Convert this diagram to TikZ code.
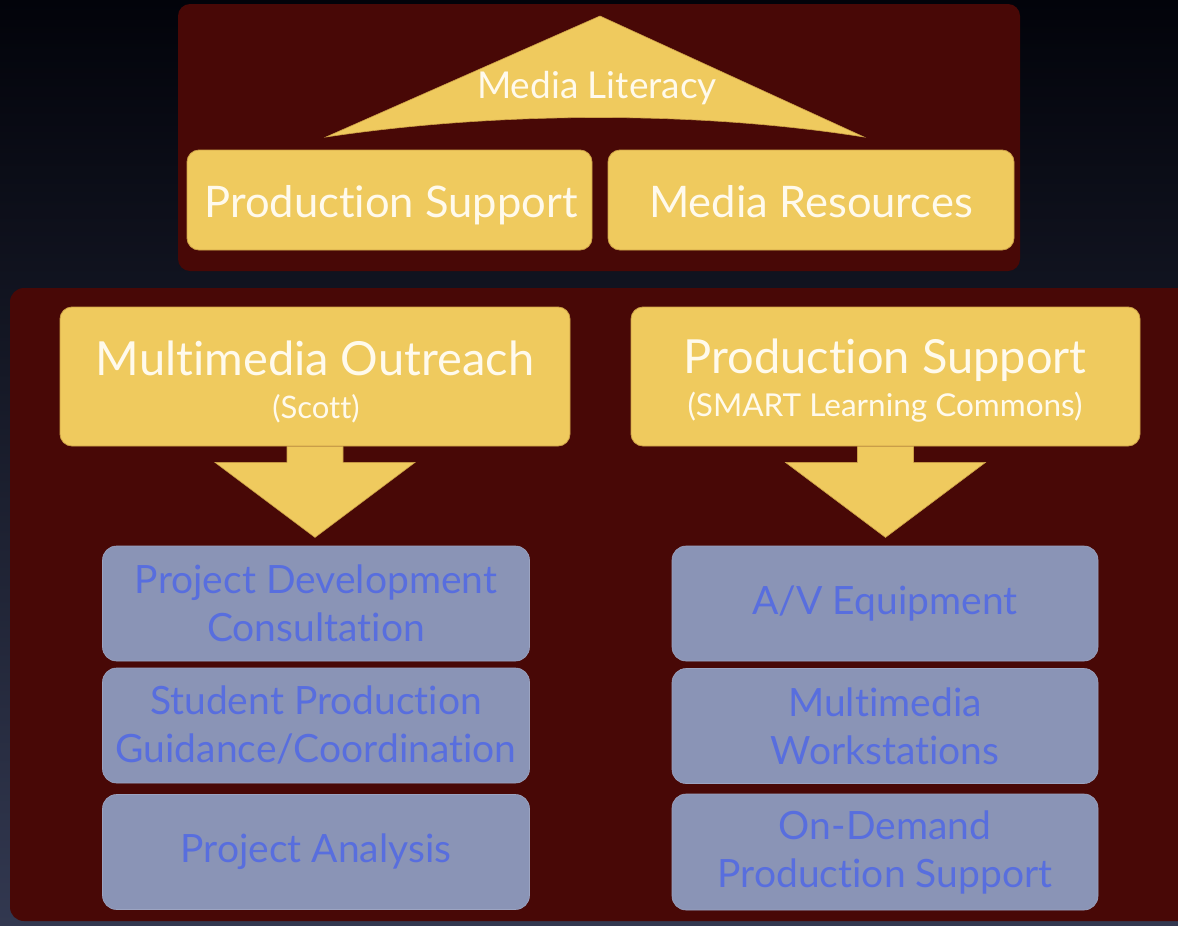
\documentclass[tikz,border=0pt]{standalone}
\usepackage{fontspec}
\setmainfont{Lato}[Ligatures={NoCommon}]
\usetikzlibrary{calc}
\definecolor{bgtop}{RGB}{2,3,10}
\definecolor{bgbot}{RGB}{50,56,80}
\definecolor{panel}{RGB}{72,8,6}
\definecolor{gold}{RGB}{239,202,94}
\definecolor{golden}{RGB}{205,160,70}
\definecolor{cream}{RGB}{255,250,236}
\definecolor{slate}{RGB}{138,148,182}
\definecolor{bluetxt}{RGB}{88,110,222}
\begin{document}
\begin{tikzpicture}[x=1pt,y=-1pt,
  goldbox/.style={fill=gold, draw=golden, line width=0.8pt, rounded corners=12pt, inner sep=0pt},
  goldtext/.style={text=cream, anchor=base, inner sep=0pt},
  bluebox/.style={fill=slate, draw=slate!85!white, line width=0.6pt, rounded corners=14pt,
    text=bluetxt, align=center, inner sep=0pt,
    font=\fontsize{39}{48}\selectfont},
  goldshape/.style={fill=gold, draw=golden, line width=0.6pt}]
\useasboundingbox (0,0) rectangle (1178,926);
\shade[top color=bgtop, bottom color=bgbot] (0,0) rectangle (1178,926);
% panels
\fill[panel, rounded corners=12pt] (178,4) rectangle (1020,271);
\fill[panel, rounded corners=14pt] (10,288) rectangle (1200,921);
% Media literacy roof
\path[goldshape] (600,16) -- (864,137) .. controls (700,111) and (500,111) .. (326,137) -- cycle;
\node[goldtext, font=\fontsize{37}{40}\selectfont] (ml) at (597,98) {Media Literacy};
% top boxes
\node[goldbox, minimum width=405pt, minimum height=100pt] (ps1) at (389.5,200) {};
\node[goldtext, font=\fontsize{43.5}{46}\selectfont] (ps1t) at (391,217) {Production Support};
\node[goldbox, minimum width=406pt, minimum height=100pt] (mr) at (811,200) {};
\node[goldtext, font=\fontsize{43.5}{46}\selectfont] (mrt) at (811,217) {Media Resources};
% main boxes
\node[goldbox, minimum width=510pt, minimum height=139pt] (mo) at (315,376.5) {};
\node[goldtext, font=\fontsize{47}{50}\selectfont] (mot) at (315,375) {Multimedia Outreach};
\node[goldtext, font=\fontsize{31}{34}\selectfont] (mos) at (316,418) {(Scott)};
\node[goldbox, minimum width=509pt, minimum height=139pt] (ps2) at (885.5,376.5) {};
\node[goldtext, font=\fontsize{47}{50}\selectfont] (ps2t) at (885,373) {Production Support};
\node[goldtext, font=\fontsize{31.5}{34}\selectfont] (ps2s) at (885,416) {(SMART Learning Commons)};
% block arrows
\path[goldshape] ($(mo.south)+(-28,0)$) -- ($(mo.south)+(-28,16)$) -- ($(mo.south)+(-100,16)$)
  -- ($(mo.south)+(0,91)$) -- ($(mo.south)+(100,16)$) -- ($(mo.south)+(28,16)$) -- ($(mo.south)+(28,0)$);
\path[goldshape] ($(ps2.south)+(-28,0)$) -- ($(ps2.south)+(-28,16)$) -- ($(ps2.south)+(-100,16)$)
  -- ($(ps2.south)+(0,91)$) -- ($(ps2.south)+(100,16)$) -- ($(ps2.south)+(28,16)$) -- ($(ps2.south)+(28,0)$);
% blue boxes left
\node[bluebox, minimum width=427pt, minimum height=115pt] (pdc) at (316,603.5) {Project Development\\Consultation};
\node[bluebox, minimum width=427pt, minimum height=115pt] (spg) at (316,725.5) {Student Production\\Guidance/Coordination};
\node[bluebox, minimum width=427pt, minimum height=115pt] (pa) at (316,852) {Project Analysis};
% blue boxes right
\node[bluebox, minimum width=426pt, minimum height=115pt] (av) at (885,603.5) {A/V Equipment};
\node[bluebox, minimum width=426pt, minimum height=115pt] (mw) at (885,726) {Multimedia\\Workstations};
\node[bluebox, minimum width=426pt, minimum height=116pt] (od) at (885,852) {On-Demand\\Production Support};
\end{tikzpicture}
\end{document}
